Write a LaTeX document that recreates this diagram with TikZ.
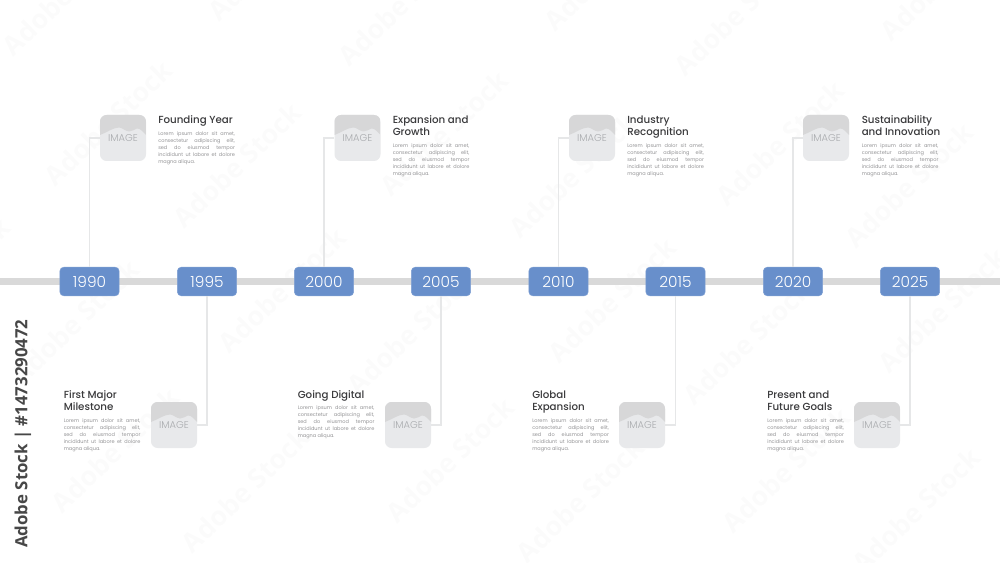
\documentclass[tikz,border=0pt]{standalone}
\usepackage{fontspec}
\setmainfont{Poppins}
\newfontfamily\medfont{Poppins Medium}
\newfontfamily\lightfont{Poppins Light}
\newfontfamily\sidefont{Open Sans}
\usetikzlibrary{calc}
\definecolor{barc}{HTML}{D9D9D9}
\definecolor{badgec}{HTML}{688FCB}
\definecolor{linkc}{HTML}{E6E7E8}
\definecolor{imgc}{HTML}{E8E9EB}
\definecolor{imgt}{HTML}{D7D7D8}
\definecolor{imgl}{HTML}{A9ABAE}
\definecolor{titlec}{HTML}{3A3A3C}
\definecolor{bodyc}{HTML}{949496}
\newcommand{\jl}[1]{\makebox[57.5pt][s]{#1}}
\newcommand{\loremtext}{\jl{Lorem ipsum dolor sit amet,}\\\jl{consectetur adipiscing elit,}\\\jl{sed do eiusmod tempor}\\\jl{incididunt ut labore et dolore}\\magna aliqua.}
\newcommand{\photobox}[3]{%
  \node[imgbox] (#1) at (#2,#3) {};
  \begin{scope}
    \clip[rounded corners=5pt] ($(#1.center)+(-23,-23)$) rectangle ($(#1.center)+(23,23)$);
    \fill[imgt] ($(#1.center)+(-23,-23)$) -- ($(#1.center)+(23,-23)$) -- ($(#1.center)+(23,-3)$)
      .. controls ($(#1.center)+(20,-6)$) and ($(#1.center)+(17,-10)$) .. ($(#1.center)+(14,-9.5)$)
      .. controls ($(#1.center)+(11,-9)$) and ($(#1.center)+(9,-6)$) .. ($(#1.center)+(6,-6.5)$)
      .. controls ($(#1.center)+(2,-7)$) and ($(#1.center)+(-1,-10.5)$) .. ($(#1.center)+(-4,-10.5)$)
      .. controls ($(#1.center)+(-10,-10.5)$) and ($(#1.center)+(-17,-5)$) .. ($(#1.center)+(-23,-3)$) -- cycle;
  \end{scope}
  \node[imglabel] (#1t) at (#1.center) {IMAGE};
}
\tikzset{
  x=0.75pt,y=-0.75pt,
  badge/.style={rectangle,rounded corners=3pt,fill=badgec,draw=badgec!85!white,line width=.4pt,minimum width=44.5pt,minimum height=21.5pt,inner sep=0pt,text=white,font=\lightfont\fontsize{11.5}{13}\selectfont},
  imgbox/.style={rectangle,rounded corners=5pt,fill=imgc,minimum width=34.5pt,minimum height=34.5pt,inner sep=0pt},
  imglabel/.style={text=imgl,font=\lightfont\fontsize{7.4}{8}\selectfont,inner sep=0pt},
  ttl/.style={anchor=north west,inner sep=0pt,align=left,text=titlec,font=\medfont\fontsize{7.7}{9.4}\selectfont,execute at begin node={\rule{0pt}{6pt}}},
  body/.style={anchor=north west,inner sep=0pt,align=left,text=bodyc,font=\fontsize{3.75}{5.25}\selectfont},
  link/.style={draw=linkc,line width=1pt},
  wm/.style={rotate=44,text=black,opacity=.016,font=\sidefont\bfseries\fontsize{20}{22}\selectfont,inner sep=0pt},
}
\begin{document}
\begin{tikzpicture}
\useasboundingbox (0,0) rectangle (1000,563);
\fill[white] (0,0) rectangle (1000,563);
% faint repeated stock mark
\begin{scope}
\clip (0,0) rectangle (1000,563);
\foreach \x/\y [count=\i] in {66/-7,402/3,738/13,272/-42,608/-32,944/-22,108/123,444/133,780/143,237/165,573/175,909/185,-54/280,282/290,612/300,942/310,75/322,411/332,747/342,115/450,450/460,786/470,245/490,580/500,916/510}
  \node[wm] (w\i) at (\x,\y) {Adobe Stock};
\end{scope}
\coordinate (barL) at (0,281.5);
\coordinate (barR) at (1000,281.5);
\draw[barc,line width=5.6pt] (barL) -- (barR);
% badges
\foreach \n/\x/\t in {a/89.5/1990,b/207/1995,c/324/2000,d/441/2005,e/558.5/2010,f/675.5/2015,g/793/2020,h/910/2025}
  \node[badge] (\n) at (\x,281.5) {\t};
% image boxes
\photobox{ia}{123}{138}
\photobox{ic}{357.5}{138}
\photobox{ie}{592}{138}
\photobox{ig}{826}{138}
\photobox{ib}{174}{425}
\photobox{id}{408}{425}
\photobox{if}{642}{425}
\photobox{ih}{877}{425}
% connectors
\foreach \p/\q in {a/ia,c/ic,e/ie,g/ig}
  \draw[link] (\p.north) |- (\q.west);
\foreach \p/\q in {b/ib,d/id,f/if,h/ih}
  \draw[link] (\p.south) |- (\q.east);
% top texts
\node[ttl] (t1) at (158,115.2) {Founding Year};
\node[body] (b1) at (158,131) {\loremtext};
\node[ttl] (t3) at (392.5,115.2) {Expansion and\\Growth};
\node[body] (b3) at (392.5,143.5) {\loremtext};
\node[ttl] (t5) at (627,115.2) {Industry\\Recognition};
\node[body] (b5) at (627,143.5) {\loremtext};
\node[ttl] (t7) at (861.5,115.2) {Sustainability\\and Innovation};
\node[body] (b7) at (861.5,143.5) {\loremtext};
% bottom texts
\node[ttl] (t2) at (63.5,390.2) {First Major\\Milestone};
\node[body] (b2) at (63.5,418) {\loremtext};
\node[ttl] (t4) at (297.5,390.2) {Going Digital};
\node[body] (b4) at (297.5,405.5) {\loremtext};
\node[ttl] (t6) at (532,390.2) {Global\\Expansion};
\node[body] (b6) at (532,418) {\loremtext};
\node[ttl] (t8) at (767,390.2) {Present and\\Future Goals};
\node[body] (b8) at (767,418) {\loremtext};
% side label
\node[rotate=90,anchor=west,inner sep=0pt,text=black!72,font=\sidefont\bfseries\fontsize{12.6}{14}\selectfont] (side) at (23,548) {Adobe Stock | \#1473290472};
\end{tikzpicture}
\end{document}
